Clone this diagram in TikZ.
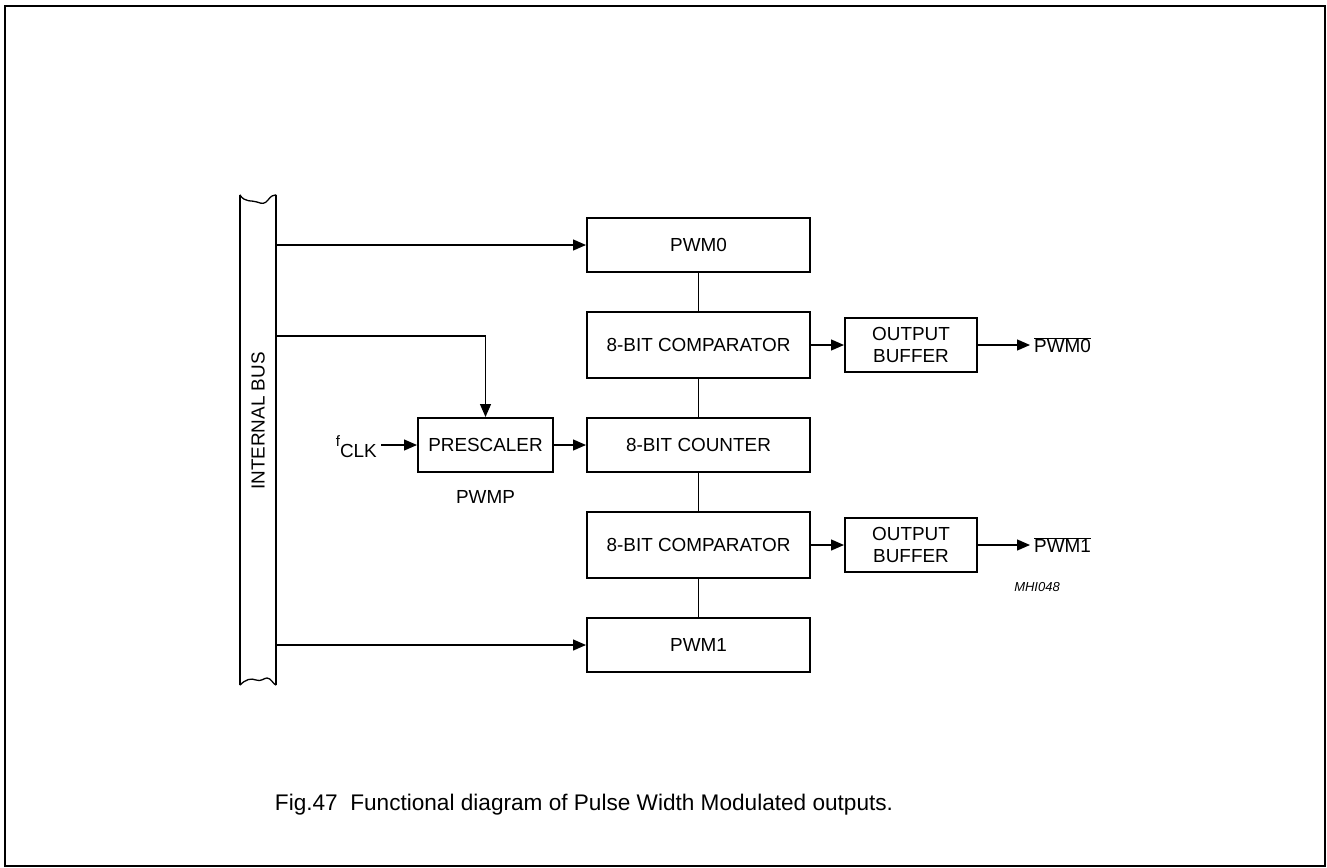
\documentclass[tikz,border=0pt]{standalone}
\usepackage{fontspec}
\setmainfont{Liberation Sans}
\usetikzlibrary{arrows.meta}
\begin{document}
\begin{tikzpicture}[x=1pt,y=-1pt,
  txt/.style={font=\fontsize{18.9}{22}\selectfont},
  blk/.style={draw,line width=2pt,minimum width=223pt,minimum height=54pt,inner sep=0pt,txt},
  cmp/.style={blk,minimum height=66pt},
  buf/.style={blk,minimum width=132pt,align=center,font=\fontsize{18.9}{22}\selectfont},
  pre/.style={blk,minimum width=135pt},
  conn/.style={line width=1.3pt},
  arr/.style={conn,-{Triangle[length=13pt,width=11pt]}},
  busline/.style={line width=2pt}]
\useasboundingbox (0,0) rectangle (1327,867);
\draw[line width=1.6pt] (5,6) rectangle (1325,866);

% internal bus
\node[minimum width=36pt,minimum height=490pt,inner sep=0pt] (bus) at (258,440) {};
\node[rotate=90,txt] (buslabel) at (258,421) {INTERNAL BUS};
\draw[busline] (bus.south west) -- (bus.north west);
\draw[busline] (bus.south east) -- (bus.north east);
\draw[line width=1.3pt] (bus.north west) .. controls (245,203) and (252,200) .. (257,202)
  .. controls (262,204) and (265,204) .. (268,200) .. controls (271,196) and (273,195) .. (bus.north east);
\draw[line width=1.3pt] (bus.south west) .. controls (246,679) and (251,678) .. (256,680)
  .. controls (261,682) and (264,678) .. (267,678) .. controls (271,678) and (273,684) .. (bus.south east);

% blocks
\node[blk] (pwm0) at (698.5,245) {PWM0};
\node[cmp] (cmp0) at (698.5,345) {8-BIT COMPARATOR};
\node[blk] (cnt) at (698.5,445) {8-BIT COUNTER};
\node[cmp] (cmp1) at (698.5,545) {8-BIT COMPARATOR};
\node[blk] (pwm1) at (698.5,645) {PWM1};
\node[buf] (buf0) at (911,345) {OUTPUT\\BUFFER};
\node[buf] (buf1) at (911,545) {OUTPUT\\BUFFER};
\node[pre] (pre) at (485.5,445) {PRESCALER};
\node[txt] (pwmp) at (485.5,497) {PWMP};
\node[txt,anchor=east,inner sep=0pt] (fclk) at (377,447) {\raisebox{1.1ex}{\fontsize{15}{17}\selectfont f}CLK};
\node[txt,anchor=west,inner sep=0pt] (out0) at (1034,345) {$\overline{\hbox{PWM0}}$};
\node[txt,anchor=west,inner sep=0pt] (out1) at (1034,545) {$\overline{\hbox{PWM1}}$};
\node[font=\fontsize{13}{15}\selectfont\itshape] (mhi) at (1037,587) {MHI048};
\node[font=\fontsize{22.6}{26}\selectfont] (cap) at (584,805) {Fig.47\ \ Functional diagram of Pulse Width Modulated outputs.};

% connectors
\coordinate (b1) at (bus.east |- pwm0.west);
\coordinate (b2) at (276,336);
\coordinate (b3) at (bus.east |- pwm1.west);
\coordinate (fc) at (381,445);
\draw[arr] (b1) -- (pwm0.west);
\draw[arr] (b2) -| (pre.north);
\draw[arr] (b3) -- (pwm1.west);
\draw[conn] (pwm0.south) -- (cmp0.north);
\draw[conn] (cmp0.south) -- (cnt.north);
\draw[conn] (cnt.south) -- (cmp1.north);
\draw[conn] (cmp1.south) -- (pwm1.north);
\draw[arr] (fc) -- (pre.west);
\draw[arr] (pre.east) -- (cnt.west);
\draw[arr] (cmp0.east) -- (buf0.west);
\draw[arr] (cmp1.east) -- (buf1.west);
\coordinate (o0) at (1030,345);
\coordinate (o1) at (1030,545);
\draw[arr] (buf0.east) -- (o0);
\draw[arr] (buf1.east) -- (o1);
\end{tikzpicture}
\end{document}
